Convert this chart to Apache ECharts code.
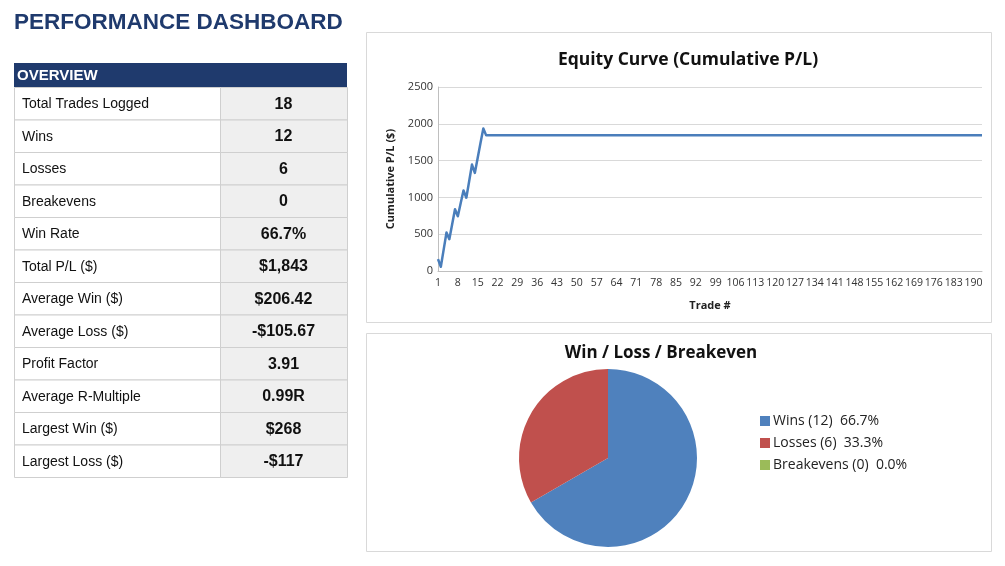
<!DOCTYPE html>
<html>
<head>
<meta charset="utf-8">
<script src="https://cdn.jsdelivr.net/npm/echarts@6/dist/echarts.min.js"></script>
<style>
  html, body { margin: 0; padding: 0; background: #fff; }
  #main { width: 1005px; height: 566px; }
</style>
</head>
<body>
<div id="main"></div>
<script>
// overview table
var overviewLabels = ['Total Trades Logged', 'Wins', 'Losses', 'Breakevens', 'Win Rate', 'Total P/L ($)',
    'Average Win ($)', 'Average Loss ($)', 'Profit Factor', 'Average R-Multiple', 'Largest Win ($)', 'Largest Loss ($)'];
var overviewValues = ['18', '12', '6', '0', '66.7%', '$1,843', '$206.42', '-$105.67', '3.91', '0.99R', '$268', '-$117'];

// equity curve, trade # 1..193 (trades after 18 stay flat)
var tradeCount = 193;
var tradeNumbers = [];
for (var t = 1; t <= tradeCount; t++) { tradeNumbers.push(String(t)); }
var cumulativePL = [
    162, 58, 290, 523, 432, 635, 838, 743, 920, 1095, 996, 1220, 1446, 1333, 1535, 1740, 1937, 1843,
    1843, 1843, 1843, 1843, 1843, 1843, 1843, 1843, 1843, 1843, 1843, 1843, 1843, 1843, 1843, 1843, 1843, 1843, 1843, 1843,
    1843, 1843, 1843, 1843, 1843, 1843, 1843, 1843, 1843, 1843, 1843, 1843, 1843, 1843, 1843, 1843, 1843, 1843, 1843, 1843,
    1843, 1843, 1843, 1843, 1843, 1843, 1843, 1843, 1843, 1843, 1843, 1843, 1843, 1843, 1843, 1843, 1843, 1843, 1843, 1843,
    1843, 1843, 1843, 1843, 1843, 1843, 1843, 1843, 1843, 1843, 1843, 1843, 1843, 1843, 1843, 1843, 1843, 1843, 1843, 1843,
    1843, 1843, 1843, 1843, 1843, 1843, 1843, 1843, 1843, 1843, 1843, 1843, 1843, 1843, 1843, 1843, 1843, 1843, 1843, 1843,
    1843, 1843, 1843, 1843, 1843, 1843, 1843, 1843, 1843, 1843, 1843, 1843, 1843, 1843, 1843, 1843, 1843, 1843, 1843, 1843,
    1843, 1843, 1843, 1843, 1843, 1843, 1843, 1843, 1843, 1843, 1843, 1843, 1843, 1843, 1843, 1843, 1843, 1843, 1843, 1843,
    1843, 1843, 1843, 1843, 1843, 1843, 1843, 1843, 1843, 1843, 1843, 1843, 1843, 1843, 1843, 1843, 1843, 1843, 1843, 1843,
    1843, 1843, 1843, 1843, 1843, 1843, 1843, 1843, 1843, 1843, 1843, 1843, 1843, 1843, 1843
];

// win / loss pie
var outcomeNames = ['Wins', 'Losses', 'Breakevens'];
var outcomeCounts = [12, 6, 0];
var outcomePct = ['66.7%', '33.3%', '0.0%'];

var chartFont = '"Open Sans", "Noto Sans", sans-serif';
var tableFont = '"Liberation Sans", Arial, sans-serif';
var navy = '#1f3a6d';

var myChart = echarts.init(document.getElementById('main'), null, { renderer: 'canvas' });

// build the table as graphic elements
var tableLeft = 14, tableRight = 347, colSplit = 220, headerTop = 63, headerH = 24, rowH = 32.5;
var graphics = [
    // chart panels
    { type: 'rect', shape: { x: 366.5, y: 32.5, width: 625, height: 290 }, style: { fill: 'none', stroke: '#d9d9d9', lineWidth: 1 }, z: -1 },
    { type: 'rect', shape: { x: 366.5, y: 333.5, width: 625, height: 218 }, style: { fill: 'none', stroke: '#d9d9d9', lineWidth: 1 }, z: -1 },
    // header
    { type: 'rect', shape: { x: tableLeft, y: headerTop, width: tableRight - tableLeft, height: headerH }, style: { fill: navy } },
    { type: 'text', x: 17, y: headerTop + headerH / 2 + 1, style: { text: 'OVERVIEW', fill: '#fff', font: 'bold 15px ' + tableFont, verticalAlign: 'middle' } }
];
for (var i = 0; i < overviewLabels.length; i++) {
    var y0 = headerTop + headerH + i * rowH;
    graphics.push({ type: 'rect', shape: { x: tableLeft + 0.5, y: y0 + 0.5, width: colSplit - tableLeft, height: rowH }, style: { fill: '#fff', stroke: '#cfcfcf', lineWidth: 1 } });
    graphics.push({ type: 'rect', shape: { x: colSplit + 0.5, y: y0 + 0.5, width: tableRight - colSplit, height: rowH }, style: { fill: '#efefef', stroke: '#cfcfcf', lineWidth: 1 } });
    graphics.push({ type: 'text', x: 22, y: y0 + rowH / 2 + 1, style: { text: overviewLabels[i], fill: '#111', font: '14px ' + tableFont, verticalAlign: 'middle' } });
    graphics.push({ type: 'text', x: (colSplit + tableRight) / 2, y: y0 + rowH / 2 + 1, style: { text: overviewValues[i], fill: '#111', font: 'bold 16px ' + tableFont, align: 'center', verticalAlign: 'middle' } });
}

var option = {
    backgroundColor: '#fff',
    animation: false,
    title: [
        {
            text: 'PERFORMANCE DASHBOARD',
            left: 9, top: 6,
            textStyle: { color: navy, fontSize: 22.5, fontWeight: 'bold', fontFamily: tableFont }
        },
        {
            text: 'Equity Curve (Cumulative P/L)',
            left: 683, top: 46, textAlign: 'center',
            textStyle: { color: '#111', fontSize: 17.5, fontWeight: 'bold', fontFamily: chartFont }
        },
        {
            text: 'Win / Loss / Breakeven',
            left: 656, top: 340, textAlign: 'center',
            textStyle: { color: '#111', fontSize: 17, fontWeight: 'bold', fontFamily: chartFont }
        }
    ],
    graphic: graphics,
    grid: { left: 438, right: 23, top: 87, bottom: 295, containLabel: false },
    xAxis: {
        type: 'category',
        data: tradeNumbers,
        boundaryGap: false,
        name: 'Trade #',
        nameLocation: 'middle',
        nameGap: 29,
        nameTextStyle: { color: '#222', fontSize: 11, fontWeight: 'bold', fontFamily: chartFont },
        axisLine: { lineStyle: { color: '#bfbfbf' } },
        axisTick: { show: false },
        axisLabel: { interval: 6, color: '#333', fontSize: 10.5, fontFamily: chartFont, margin: 7 }
    },
    yAxis: {
        type: 'value',
        min: 0, max: 2500, interval: 500,
        name: 'Cumulative P/L ($)',
        nameLocation: 'middle',
        nameRotate: 90,
        nameGap: 42,
        nameTextStyle: { color: '#222', fontSize: 11, fontWeight: 'bold', fontFamily: chartFont },
        axisLine: { show: true, lineStyle: { color: '#bfbfbf' } },
        axisTick: { show: false },
        splitLine: { lineStyle: { color: '#d9d9d9' } },
        axisLabel: {
            color: '#333', fontSize: 11, fontFamily: chartFont, margin: 5,
            formatter: function (v) { return String(v); }
        }
    },
    legend: {
        orient: 'vertical',
        left: 755, top: 407,
        itemWidth: 10, itemHeight: 10, itemGap: 4,
        icon: 'rect',
        data: outcomeNames,
        formatter: function (name) {
            var k = outcomeNames.indexOf(name);
            return name + ' (' + outcomeCounts[k] + ')  ' + outcomePct[k];
        },
        textStyle: { color: '#222', fontSize: 14, lineHeight: 18, fontFamily: chartFont, padding: [0, 0, 0, -2] }
    },
    series: [
        {
            type: 'line',
            data: cumulativePL,
            showSymbol: false,
            lineStyle: { color: '#4a7ebb', width: 2.5, join: 'round' },
            itemStyle: { color: '#4a7ebb' }
        },
        {
            type: 'pie',
            center: [608, 458],
            radius: 89,
            startAngle: 90,
            clockwise: true,
            label: { show: false },
            labelLine: { show: false },
            silent: true,
            data: outcomeNames.map(function (n, k) {
                return { name: n, value: outcomeCounts[k] };
            }),
            color: ['#4f81bd', '#c0504d', '#9bbb59'],
            itemStyle: { borderWidth: 0 }
        }
    ]
};

myChart.setOption(option);
window.onresize = function () {
    myChart.resize();
};
</script>
</body>
</html>
